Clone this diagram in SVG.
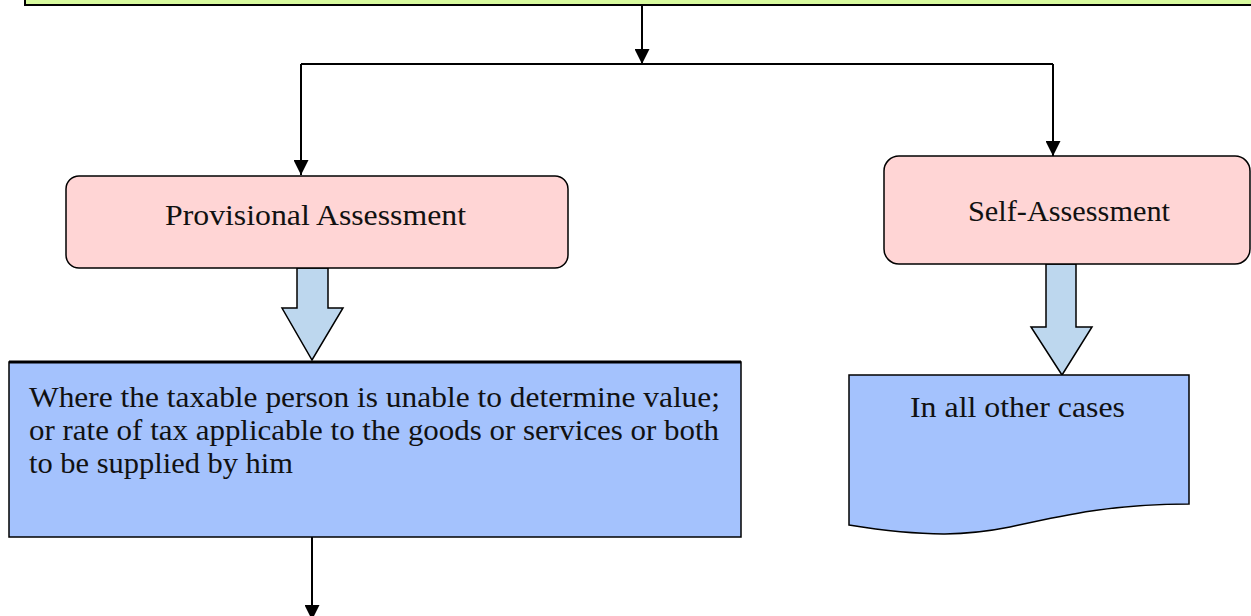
<svg xmlns="http://www.w3.org/2000/svg" width="1251" height="616" viewBox="0 0 1251 616">
<style>
.t{font-family:"Liberation Serif","Times New Roman",serif;font-size:29px;fill:#111}
.ln{stroke:#000;stroke-width:2;fill:none}
.pink{fill:#ffd5d5;stroke:#000;stroke-width:1.5}
.blue{fill:#a4c2fd;stroke:#000;stroke-width:1.5}
.barrow{fill:#bdd7ee;stroke:#000;stroke-width:1.5;stroke-linejoin:miter}
</style>
<defs>
<marker id="ah" markerWidth="16" markerHeight="15" refX="16" refY="8" orient="auto" markerUnits="userSpaceOnUse" viewBox="0 0 16 16">
<path d="M0,0 L16,8 L0,16 Z" fill="#000"/>
</marker>
</defs>
<rect width="1251" height="616" fill="#fff"/>
<g id="top-box">
<rect x="25" y="-50" width="1250" height="55" fill="#d7fa9e" stroke="#000" stroke-width="2"/>
</g>
<g id="connectors">
<line class="ln" x1="642" y1="6" x2="642" y2="64" marker-end="url(#ah)"/>
<polyline class="ln" points="301,64 1053,64"/>
<line class="ln" x1="301" y1="64" x2="301" y2="175" marker-end="url(#ah)"/>
<line class="ln" x1="1053" y1="64" x2="1053" y2="156" marker-end="url(#ah)"/>
<line class="ln" x1="312" y1="537" x2="312" y2="620" marker-end="url(#ah)"/>
<path class="barrow" d="M297,268 L328,268 L328,308 L343,308 L312,360 L282,308 L297,308 Z"/>
<path class="barrow" d="M1046,264 L1076,264 L1076,327 L1092,327 L1062,375 L1031,327 L1046,327 Z"/>
</g>
<g id="provisional">
<rect class="pink" x="66" y="176" width="502" height="92" rx="13"/>
<text class="t" x="165" y="225" textLength="301" lengthAdjust="spacingAndGlyphs">Provisional Assessment</text>
</g>
<g id="self">
<rect class="pink" x="884" y="156" width="366" height="108" rx="15"/>
<text class="t" x="968" y="221" textLength="202" lengthAdjust="spacingAndGlyphs">Self-Assessment</text>
</g>
<g id="provisional-desc">
<rect class="blue" x="9" y="362" width="732" height="175"/>
<line x1="9" y1="362" x2="741" y2="362" stroke="#000" stroke-width="3"/>
<text class="t" x="29" y="407" textLength="691" lengthAdjust="spacingAndGlyphs">Where the taxable person is unable to determine value;</text>
<text class="t" x="29" y="440" textLength="690" lengthAdjust="spacingAndGlyphs">or rate of tax applicable to the goods or services or both</text>
<text class="t" x="29" y="473" textLength="264" lengthAdjust="spacingAndGlyphs">to be supplied by him</text>
</g>
<g id="self-desc">
<path class="blue" d="M849,375 L1189,375 L1189,504 C1110,504 1060,516 1010,527 C970,535 930,538 849,525 Z"/>
<text class="t" x="910" y="417" textLength="215" lengthAdjust="spacingAndGlyphs">In all other cases</text>
</g>
</svg>
